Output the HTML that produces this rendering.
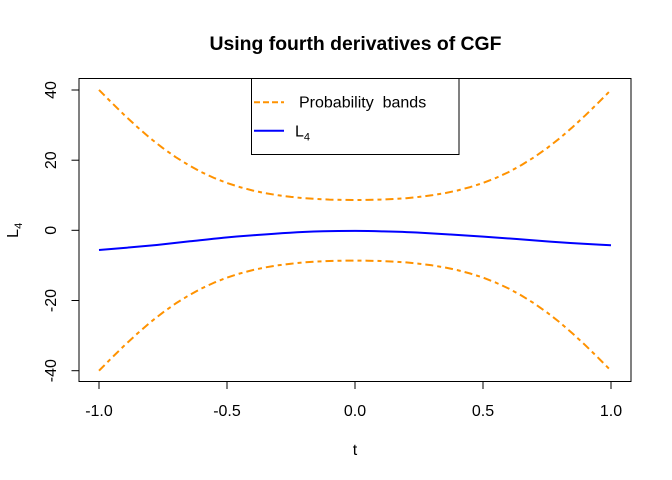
<!DOCTYPE html>
<html><head><meta charset="utf-8"><style>
html,body{margin:0;padding:0;background:#fff;}
svg{display:block;}
text{font-family:"Liberation Sans",Arial,sans-serif;fill:#000;}
</style></head><body>
<svg width="672" height="480" viewBox="0 0 672 480" xmlns="http://www.w3.org/2000/svg">
<rect width="672" height="480" fill="#fff"/>
<text x="355.5" y="50" font-size="19" font-weight="bold" text-anchor="middle" textLength="292" lengthAdjust="spacingAndGlyphs">Using fourth derivatives of CGF</text>
<!-- plot box -->
<rect x="79" y="78.5" width="552" height="303" fill="none" stroke="#000" stroke-width="1"/>
<!-- ticks -->
<g stroke="#000" stroke-width="1">
<line x1="99" y1="381.5" x2="99" y2="389"/>
<line x1="227" y1="381.5" x2="227" y2="389"/>
<line x1="355" y1="381.5" x2="355" y2="389"/>
<line x1="483" y1="381.5" x2="483" y2="389"/>
<line x1="611" y1="381.5" x2="611" y2="389"/>
<line x1="71.5" y1="90" x2="79" y2="90"/>
<line x1="71.5" y1="160.2" x2="79" y2="160.2"/>
<line x1="71.5" y1="230.3" x2="79" y2="230.3"/>
<line x1="71.5" y1="300.5" x2="79" y2="300.5"/>
<line x1="71.5" y1="370.7" x2="79" y2="370.7"/>
</g>
<g font-size="16" text-anchor="middle">
<text x="99" y="416">-1.0</text>
<text x="227" y="416">-0.5</text>
<text x="355" y="416">0.0</text>
<text x="483" y="416">0.5</text>
<text x="611" y="416">1.0</text>
<text x="355" y="455">t</text>
<text transform="translate(56,90) rotate(-90)">40</text>
<text transform="translate(56,160.2) rotate(-90)">20</text>
<text transform="translate(56,230.3) rotate(-90)">0</text>
<text transform="translate(56,300.5) rotate(-90)">-20</text>
<text transform="translate(56,370.7) rotate(-90)">-40</text>
<text transform="translate(18,230.3) rotate(-90)">L<tspan font-size="11" dy="4">4</tspan></text>
</g>
<!-- bands -->
<g fill="none" stroke="#FF9200" stroke-width="2" stroke-dasharray="8 4 4 4" stroke-linejoin="round">
<polyline points="99,89.9 111.8,102.8 124.6,115.3 137.4,127.1 150.2,138.2 163,148.2 175.8,157.2 188.6,165.1 201.4,172.1 214.2,178 227,183 239.8,187.1 252.6,190.5 265.4,193.2 278.2,195.3 291,196.9 303.8,198.2 316.6,199 329.4,199.6 342.2,199.9 355,200 367.8,199.9 380.6,199.6 393.4,199 406.2,198.2 419,196.9 431.8,195.3 444.6,193.2 457.4,190.5 470.2,187.1 483,183 495.8,178 508.6,172.1 521.4,165.1 534.2,157.2 547,148.2 559.8,138.2 572.6,127.1 585.4,115.3 598.2,102.8 611,89.9"/>
<polyline points="99,370.7 111.8,357.8 124.6,345.3 137.4,333.5 150.2,322.4 163,312.4 175.8,303.4 188.6,295.5 201.4,288.5 214.2,282.6 227,277.6 239.8,273.5 252.6,270.1 265.4,267.4 278.2,265.3 291,263.7 303.8,262.4 316.6,261.6 329.4,261 342.2,260.7 355,260.6 367.8,260.7 380.6,261 393.4,261.6 406.2,262.4 419,263.7 431.8,265.3 444.6,267.4 457.4,270.1 470.2,273.5 483,277.6 495.8,282.6 508.6,288.5 521.4,295.5 534.2,303.4 547,312.4 559.8,322.4 572.6,333.5 585.4,345.3 598.2,357.8 611,370.7"/>
</g>
<!-- L4 -->
<path fill="none" stroke="#0000FF" stroke-width="2" d="M99,250 C107,249.4 115,248.7 123.3,248 C134,247 145,246.1 156.7,245 C168,243.8 179,242.5 190,241.3 C201,240.1 212,238.8 223.3,237.7 C234,236.7 245,235.8 256.7,235 C268,234.1 279,233.3 290,232.7 C301,232 312,231.6 323.3,231.3 C334,231 344,230.9 355,230.9 C365,230.9 374,231.1 383.3,231.4 C395,231.7 406,232 416.7,232.5 C428,233.1 439,233.8 450,234.5 C461,235.2 472,235.8 483.3,236.6 C494,237.4 505,238.2 516.7,239 C528,239.9 539,240.8 550,241.6 C561,242.4 572,243.1 583.3,243.7 C592,244.2 602,244.8 611,245.2"/>
<!-- legend -->
<rect x="251.5" y="78.5" width="207.5" height="76" fill="#fff" stroke="#000" stroke-width="1"/>
<line x1="254" y1="102.3" x2="284" y2="102.3" stroke="#FF9200" stroke-width="2" stroke-dasharray="6 3"/>
<line x1="254" y1="130.7" x2="284" y2="130.7" stroke="#0000FF" stroke-width="2"/>
<text x="299" y="107.5" font-size="16" xml:space="preserve">Probability  bands</text>
<text x="295" y="136.7" font-size="16">L<tspan font-size="11" dy="4">4</tspan></text>
</svg>
</body></html>
